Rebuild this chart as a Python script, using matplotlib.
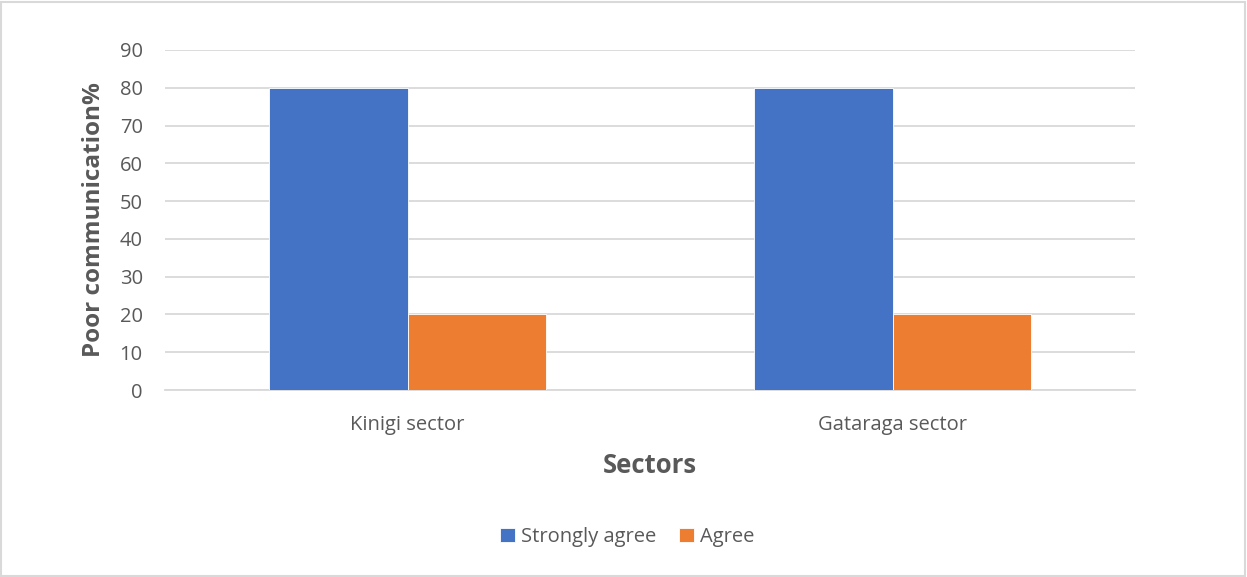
#!/usr/bin/env python3

import matplotlib.pyplot as plt
import numpy as np
from matplotlib.patches import Rectangle

plt.rcParams['font.family'] = ['Open Sans', 'DejaVu Sans']

# ============================================================
# DATA
# ============================================================
sectors = ["Kinigi sector", "Gataraga sector"]
strongly_agree = [80, 80]
agree = [20, 20]
series_names = ["Strongly agree", "Agree"]

BLUE = "#4472C4"
ORANGE = "#ED7D31"
TEXT = "#595959"
GRID = "#D9D9D9"


def main():
    fig = plt.figure(figsize=(12.47, 5.77), dpi=100)
    ax = fig.add_axes([165 / 1247, 1 - 390 / 577, 970 / 1247, 340 / 577])

    x = np.arange(len(sectors))
    width = 0.285
    ax.bar(x - width / 2, strongly_agree, width, color=BLUE, edgecolor="white",
           linewidth=0.6, label=series_names[0], zorder=3)
    ax.bar(x + width / 2, agree, width, color=ORANGE, edgecolor="white",
           linewidth=0.6, label=series_names[1], zorder=3)

    ax.set_xlim(-0.5, len(sectors) - 0.5)
    ax.set_ylim(0, 90)
    ax.set_yticks(np.arange(0, 91, 10))
    ax.set_xticks(x)
    ax.set_xticklabels(sectors)

    ax.grid(axis="y", color=GRID, linewidth=1.3, zorder=0)
    for s in ["top", "right", "left"]:
        ax.spines[s].set_visible(False)
    ax.spines["bottom"].set_color(GRID)
    ax.spines["bottom"].set_linewidth(1.3)
    ax.tick_params(length=0, colors=TEXT, labelsize=14.5)
    ax.tick_params(axis="y", pad=16)
    ax.tick_params(axis="x", pad=18)

    ax.set_xlabel("Sectors", fontsize=18.5, fontweight="bold", color=TEXT, labelpad=12)
    ax.set_ylabel("Poor communication%", fontsize=17.5, fontweight="bold", color=TEXT, labelpad=10)

    fig.legend(*ax.get_legend_handles_labels(), loc="center",
               bbox_to_anchor=(0.503, 1 - 537 / 577), ncol=2, frameon=False,
               fontsize=14.5, labelcolor=TEXT, handlelength=0.75, handleheight=0.75,
               handletextpad=0.3, columnspacing=1.1)

    fig.patches.append(Rectangle((0.001, 0.002), 0.997, 0.995, transform=fig.transFigure,
                                 fill=False, edgecolor="#D9D9D9", linewidth=1.5))

    fig.savefig("out.png", dpi=100)


if __name__ == "__main__":
    main()
